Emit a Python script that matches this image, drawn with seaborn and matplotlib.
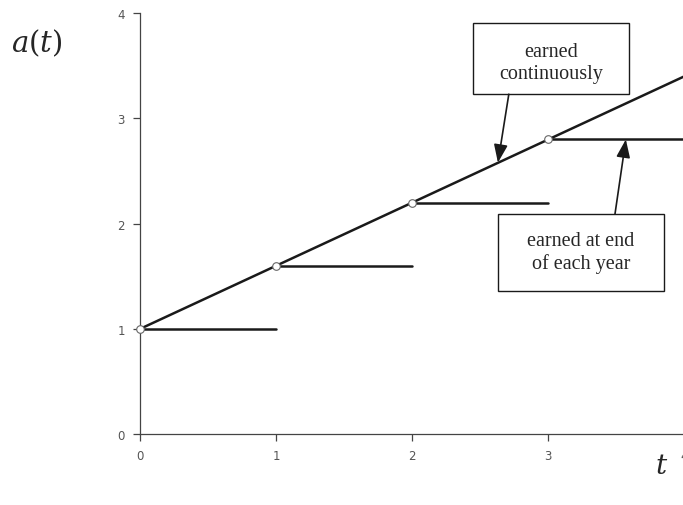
import numpy as np
import pandas as pd
import matplotlib
matplotlib.use("Agg")
import matplotlib.pyplot as plt
from matplotlib.patches import Rectangle
import seaborn as sns

# values
years = [0, 1, 2, 3, 4]
a_continuous = [1.0, 1.6, 2.2, 2.8, 3.4]
step_start = [0, 1, 2, 3]
step_end = [1, 2, 3, 4]
step_value = [1.0, 1.6, 2.2, 2.8]
x_ticks = [0, 1, 2, 3, 4]
y_ticks = [0, 1, 2, 3, 4]

sns.set_style("white")
plt.rcParams["font.family"] = ["DejaVu Sans"]
plt.rcParams["mathtext.fontset"] = "dejavuserif"

fig = plt.figure(figsize=(6.83, 5.06), dpi=100)
ax = fig.add_axes([0.205, 0.140, 0.797, 0.832])

line_df = pd.DataFrame({"t": years, "a": a_continuous})
sns.lineplot(data=line_df, x="t", y="a", color="#1a1a1a", lw=1.8, ax=ax,
             clip_on=False, zorder=3)

steps = pd.DataFrame({
    "t": step_start + step_end,
    "a": step_value + step_value,
    "seg": list(range(4)) + list(range(4)),
})
sns.lineplot(data=steps, x="t", y="a", units="seg", estimator=None,
             color="#1a1a1a", lw=1.8, ax=ax, clip_on=False, zorder=3)

pts = pd.DataFrame({"t": step_start, "a": step_value})
sns.scatterplot(data=pts, x="t", y="a", marker="o", s=30, facecolor="white",
                edgecolor="#666666", linewidth=0.8, ax=ax, zorder=4, clip_on=False)

ax.set_xlim(0, 4)
ax.set_ylim(0, 4)
ax.set_xticks(x_ticks)
ax.set_yticks(y_ticks)
ax.set_xlabel("")
ax.set_ylabel("")
ax.tick_params(axis="both", direction="out", length=5, width=0.9, color="#444444",
               labelsize=8.5, labelcolor="#555555", bottom=True, left=True)
ax.tick_params(axis="x", pad=6)
ax.tick_params(axis="y", pad=6)
sns.despine(ax=ax)
for side in ["left", "bottom"]:
    ax.spines[side].set_color("#444444")
    ax.spines[side].set_linewidth(0.9)

fig.text(0.016, 0.915, "$a(t)$", fontsize=21, ha="left", va="center")
fig.text(0.968, 0.080, "$t$", fontsize=20, ha="center", va="center")

# callout boxes (x0, y0, width, height in data units)
callouts = [
    ("earned\ncontinuously", (2.449, 3.230, 1.147, 0.675), (3.02, 3.53),
     (2.71, 3.23), (2.63, 2.58)),
    ("earned at end\nof each year", (2.632, 1.359, 1.221, 0.731), (3.24, 1.73),
     (3.49, 2.09), (3.57, 2.80)),
]
arrow = dict(arrowstyle="-|>,head_length=1.1,head_width=0.42", color="#1a1a1a",
             lw=1.2, shrinkA=0, shrinkB=0)
for label, (bx, by, bw, bh), centre, start, tip in callouts:
    ax.add_patch(Rectangle((bx, by), bw, bh, fc="white", ec="#1a1a1a", lw=1.0,
                           zorder=5, clip_on=False))
    ax.text(centre[0], centre[1], label, ha="center", va="center", fontsize=14.5,
            fontfamily="Liberation Serif", linespacing=1.25, zorder=6)
    ax.annotate("", xy=tip, xytext=start, arrowprops=arrow, zorder=5)

fig.savefig("out.png", dpi=100)
